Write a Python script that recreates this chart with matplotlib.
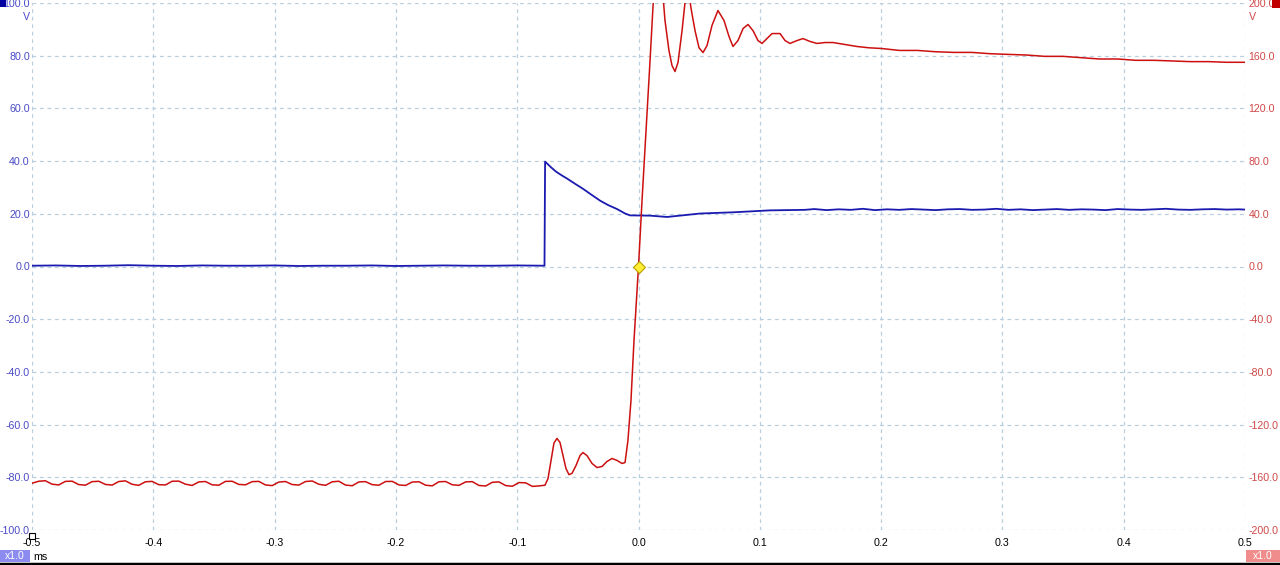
import numpy as np
import matplotlib
matplotlib.use('Agg')
import matplotlib.pyplot as plt

plt.rcParams.update({
    'font.family': ['Liberation Sans', 'DejaVu Sans'],
    'font.size': 7.7,
})

# ---- data (ms, V) ----
# red channel: ripple before the step, sampled every 0.0055 ms from -0.5 ms
red_ripple_dt = 0.0055
red_ripple = [
    -164.5, -163.0, -162.6, -165.2,
    -165.8, -163.1, -162.9, -165.5,
    -166.0, -163.3, -163.0, -165.4,
    -165.9, -163.2, -162.7, -165.3,
    -166.1, -163.4, -163.1, -165.6,
    -165.8, -163.0, -162.9, -165.2,
    -166.2, -163.5, -163.2, -165.7,
    -166.0, -163.1, -163.0, -165.4,
    -165.7, -163.3, -163.1, -165.8,
    -166.3, -163.6, -163.2, -165.5,
    -165.9, -163.2, -162.8, -165.3,
    -166.1, -163.4, -163.0, -165.9,
    -166.4, -163.5, -163.3, -165.6,
    -166.0, -163.2, -163.1, -165.8,
    -166.2, -163.6, -163.4, -166.0,
    -166.5, -163.4, -163.2, -165.7,
    -166.1, -163.5, -163.3, -166.2,
    -166.6, -163.8, -163.5, -166.3,
    -166.8, -164.0, -164.2, -166.9,
]
# red channel: transient and settling
red_t = [-0.0815, -0.0771, -0.0746, -0.0721, -0.0697, -0.0672, -0.0647, -0.0622,
         -0.0598, -0.0573, -0.0548, -0.0515, -0.0482, -0.0458, -0.0425, -0.0383,
         -0.0342, -0.0301, -0.0260, -0.0218, -0.0177, -0.0136, -0.0111, -0.0087,
         -0.0062, -0.0037, 0.0, 0.0029, 0.0062, 0.0095, 0.0120, 0.0144, 0.0169,
         0.0194, 0.0218, 0.0251, 0.0276, 0.0301, 0.0326, 0.0359, 0.0383, 0.0408,
         0.0433, 0.0466, 0.0499, 0.0532, 0.0565, 0.0606, 0.0655, 0.0705, 0.0746,
         0.0779, 0.0820, 0.0862, 0.0903, 0.0944, 0.0985, 0.1018, 0.1059, 0.1101,
         0.1167, 0.1208, 0.1249, 0.1307, 0.1356, 0.1414, 0.1472, 0.1538, 0.1603,
         0.170, 0.180, 0.190, 0.200, 0.215, 0.230, 0.245, 0.260, 0.275, 0.290,
         0.305, 0.320, 0.335, 0.350, 0.365, 0.380, 0.395, 0.410, 0.425, 0.440,
         0.455, 0.470, 0.485, 0.500]
red_v = [-166.5, -166.0, -161.0, -147.0, -134.0, -130.5, -133.6, -143.5,
         -153.3, -158.0, -157.0, -151.0, -143.5, -141.2, -143.5, -149.5,
         -152.6, -151.8, -148.0, -145.7, -147.2, -149.5, -148.8, -132.0,
         -101.7, -56.0, 0.0, 50.0, 103.0, 156.0, 198.0, 225.0, 232.0,
         215.0, 187.0, 164.0, 152.6, 148.0, 155.0, 179.0, 200.0, 212.0,
         196.0, 179.0, 166.0, 162.4, 167.7, 183.0, 194.3, 186.7, 174.6,
         167.0, 171.5, 180.6, 183.7, 179.0, 171.5, 169.3, 173.0, 176.8,
         176.8, 171.5, 169.3, 171.5, 173.0, 170.8, 169.3, 170.0, 170.0,
         168.5, 167.0, 166.0, 165.5, 164.0, 164.0, 163.0, 162.5, 162.5, 161.5,
         161.0, 160.5, 159.5, 159.5, 158.5, 157.5, 157.5, 156.5, 156.5, 156.0,
         155.5, 155.5, 155.0, 155.0]

# blue channel
blue_t = [-0.50, -0.48, -0.46, -0.44, -0.42, -0.40, -0.38, -0.36, -0.34, -0.32,
          -0.30, -0.28, -0.26, -0.24, -0.22, -0.20, -0.18, -0.16, -0.14, -0.12,
          -0.10, -0.0775, -0.0770, -0.0720, -0.0680, -0.0630, -0.0590, -0.0520,
          -0.0458, -0.0390, -0.0317, -0.0250, -0.0177, -0.0110, -0.0070, 0.0095,
          0.0235, 0.0340, 0.0507, 0.0796, 0.1080,
          0.137, 0.145, 0.155, 0.165, 0.175, 0.185, 0.195, 0.205, 0.215, 0.225,
          0.235, 0.245, 0.255, 0.265, 0.275, 0.285, 0.295, 0.305, 0.315, 0.325,
          0.335, 0.345, 0.355, 0.365, 0.375, 0.385, 0.395, 0.405, 0.415, 0.425,
          0.435, 0.445, 0.455, 0.465, 0.475, 0.485, 0.495, 0.500]
blue_v = [0.3, 0.4, 0.2, 0.3, 0.5, 0.3, 0.2, 0.4, 0.3, 0.3,
          0.4, 0.2, 0.3, 0.3, 0.4, 0.2, 0.3, 0.4, 0.3, 0.3,
          0.4, 0.3, 39.8, 37.6, 36.0, 34.5, 33.4, 31.3,
          29.5, 27.3, 25.0, 23.3, 21.8, 20.1, 19.4, 19.3,
          18.8, 19.3, 20.1, 20.6, 21.3,
          21.5, 21.8, 21.4, 21.7, 21.5, 21.9, 21.4, 21.7, 21.5, 21.8,
          21.6, 21.4, 21.7, 21.8, 21.5, 21.6, 21.9, 21.5, 21.7, 21.4,
          21.6, 21.8, 21.5, 21.7, 21.6, 21.4, 21.8, 21.6, 21.5, 21.7,
          21.9, 21.6, 21.5, 21.7, 21.8, 21.6, 21.7, 21.6]

x_ticks = [-0.5, -0.4, -0.3, -0.2, -0.1, 0.0, 0.1, 0.2, 0.3, 0.4, 0.5]
left_ticks = [-100, -80, -60, -40, -20, 0, 20, 40, 60, 80, 100]
right_ticks = [-200, -160, -120, -80, -40, 0, 40, 80, 120, 160, 200]

BLUE = '#1a1ab0'
RED = '#cc1010'
BLUE_TXT = '#4a4ac8'
RED_TXT = '#d04848'
GRID = '#b8cfdf'

fig = plt.figure(figsize=(12.8, 5.65), dpi=100)
ax = fig.add_axes([32 / 1280, 35 / 565, 1213 / 1280, 527 / 565])
ax2 = ax.twinx()

ax.set_xlim(-0.5, 0.5)
ax.set_ylim(-100, 100)
ax2.set_ylim(-200, 200)

for a in (ax, ax2):
    for s in a.spines.values():
        s.set_visible(False)
    a.tick_params(length=0)

ax.set_xticks(x_ticks)
ax.set_xticklabels([f'{v:.1f}' for v in x_ticks])
ax.tick_params(axis='x', pad=6, colors='black', labelsize=7.7)
ax.set_yticks(left_ticks)
ax.set_yticklabels([f'{v:.1f}' for v in left_ticks])
ax.tick_params(axis='y', pad=1.5, labelcolor=BLUE_TXT, labelsize=7.7)
ax2.set_yticks(right_ticks)
ax2.set_yticklabels([f'{v:.1f}' for v in right_ticks])
ax2.tick_params(axis='y', pad=2.5, labelcolor=RED_TXT, labelsize=7.7)

ax.grid(True, color=GRID, linestyle=(0, (3, 3)), linewidth=0.9)
ax.set_axisbelow(True)

# traces
ripple_t = [-0.5 + red_ripple_dt * i for i in range(len(red_ripple))]
ax2.plot(ripple_t + red_t, red_ripple + red_v, color=RED, linewidth=1.1)
ax.plot(blue_t, blue_v, color=BLUE, linewidth=1.3)

# trigger marker
ax2.plot([0.0], [0.0], marker='D', markersize=6.5, markerfacecolor='#ffee33',
         markeredgecolor='#b8a000', markeredgewidth=0.8, zorder=5)

# origin marker
ax.plot([0.0], [-0.012], marker='s', markersize=5, markerfacecolor='white',
        markeredgecolor='black', markeredgewidth=0.8, transform=ax.transAxes,
        clip_on=False, zorder=6)

# channel unit labels and colour squares
fig.text(27 / 1280, 1 - 17 / 565, 'V', color=BLUE_TXT, ha='center', va='center', fontsize=7.7)
fig.text(1253 / 1280, 1 - 17 / 565, 'V', color=RED_TXT, ha='center', va='center', fontsize=7.7)
fig.patches.append(plt.Rectangle((0, 1 - 7 / 565), 6 / 1280, 7 / 565, transform=fig.transFigure,
                                 facecolor='#0000a0', edgecolor='none'))
fig.patches.append(plt.Rectangle((1272 / 1280, 1 - 8 / 565), 8 / 1280, 8 / 565, transform=fig.transFigure,
                                 facecolor='#c00000', edgecolor='none'))

# bottom scale boxes
fig.patches.append(plt.Rectangle((0, 3 / 565), 30 / 1280, 12 / 565, transform=fig.transFigure,
                                 facecolor='#8c8cf0', edgecolor='none'))
fig.text(15 / 1280, 1 - 556 / 565, 'x1.0', color='white', ha='center', va='center', fontsize=7.5)
fig.text(33 / 1280, 1 - 557 / 565, 'ms', color='black', ha='left', va='center', fontsize=7.7)
fig.patches.append(plt.Rectangle((1246 / 1280, 3 / 565), 34 / 1280, 12 / 565, transform=fig.transFigure,
                                 facecolor='#f08c8c', edgecolor='none'))
fig.text(1263 / 1280, 1 - 556 / 565, 'x1.0', color='white', ha='center', va='center', fontsize=7.5)

# bottom border line
fig.add_artist(plt.Line2D([0, 1], [1.5 / 565, 1.5 / 565], transform=fig.transFigure,
                          color='black', linewidth=2.5))

fig.savefig('out.png', dpi=100)
